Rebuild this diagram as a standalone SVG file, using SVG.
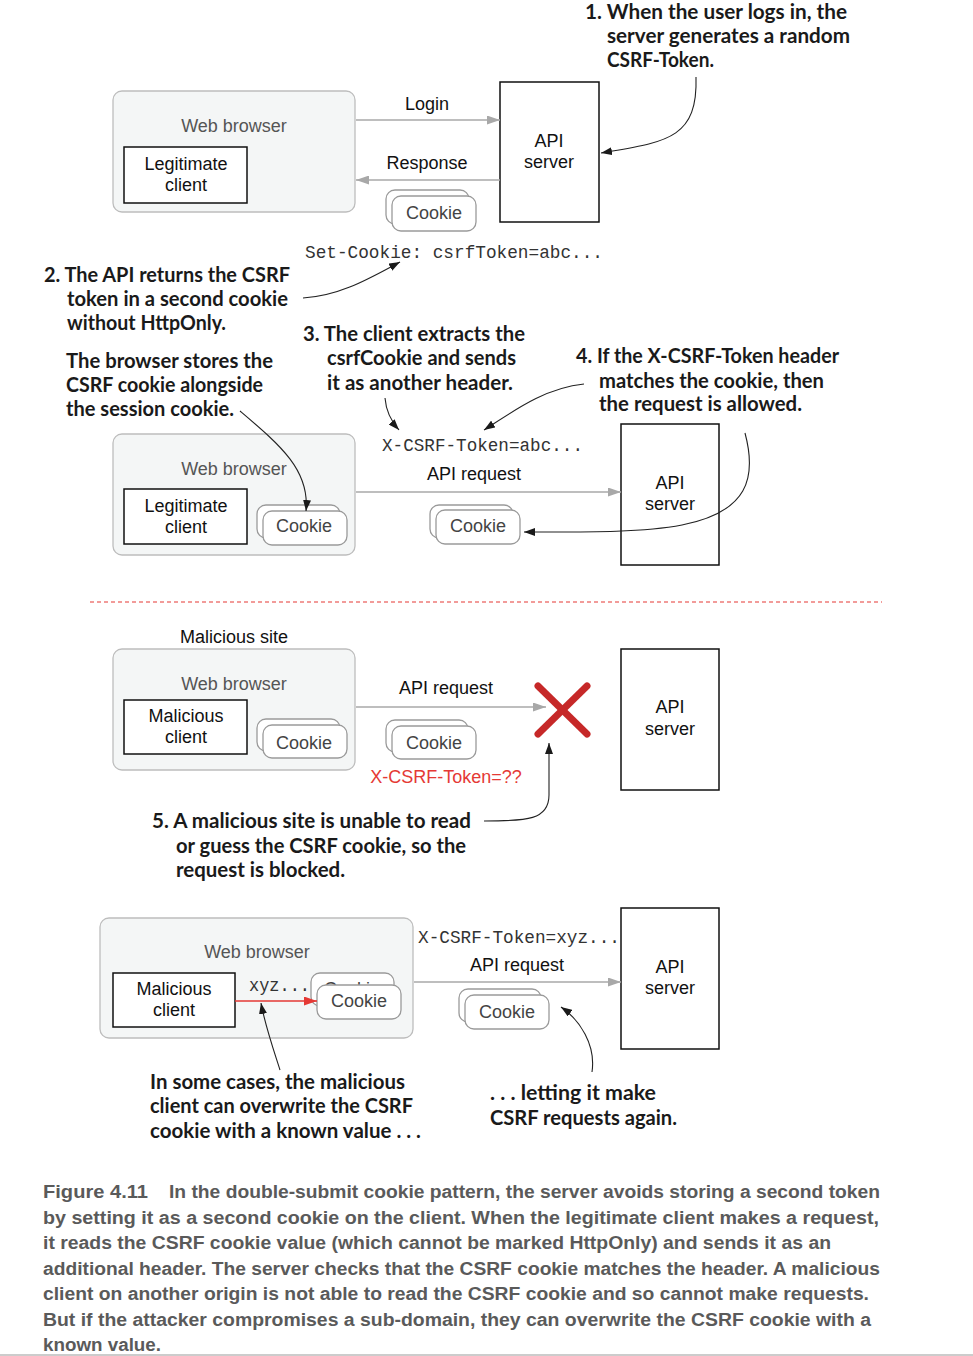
<svg xmlns="http://www.w3.org/2000/svg" width="973" height="1356" viewBox="0 0 973 1356">
<style>
.bg{fill:#fff}
.browser{fill:#f4f6f6;stroke:#bdbdbd;stroke-width:1.3}
.client{fill:#fff;stroke:#111;stroke-width:1.5}
.server{fill:#fff;stroke:#111;stroke-width:1.5}
.card{fill:#fff;stroke:#9a9a9a;stroke-width:1.3}
.sans{font-family:"Liberation Sans",Arial,sans-serif;font-size:18px;text-anchor:middle}
.dark{fill:#111}
.grey{fill:#555}
.cardt{fill:#444}
.mono{font-family:"Liberation Mono","Courier New",monospace;font-size:17.5px;fill:#333}
.ann{font-family:Lato,"DejaVu Sans",sans-serif;font-weight:bold;font-size:21px;fill:#1a1a1a}
.cap{font-family:"Liberation Sans",Arial,sans-serif;font-weight:bold;font-size:18px;fill:#5a5a5a}
.flow{stroke:#a8a8a8;stroke-width:1.6;fill:none}
.callout{stroke:#222;stroke-width:1.1;fill:none}
</style>
<defs>
<marker id="ga" markerUnits="userSpaceOnUse" markerWidth="13" markerHeight="9" refX="13" refY="4.5" orient="auto"><path d="M0,0 L13,4.5 L0,9 z" fill="#a8a8a8"/></marker>
<marker id="ba" markerUnits="userSpaceOnUse" markerWidth="11" markerHeight="8" refX="11" refY="4" orient="auto"><path d="M0,0 L11,4 L0,8 z" fill="#1a1a1a"/></marker>
<marker id="ra" markerUnits="userSpaceOnUse" markerWidth="13" markerHeight="9" refX="13" refY="4.5" orient="auto"><path d="M0,0 L13,4.5 L0,9 z" fill="#e53935"/></marker>
<clipPath id="backclip"><rect x="311" y="970" width="90" height="15"/></clipPath>
</defs>
<rect class="bg" x="0" y="0" width="973" height="1356"/>

<!-- Section 1 -->
<g id="browser1">
<rect class="browser" x="113" y="91" width="242" height="121" rx="9"/>
<text class="sans grey" x="234" y="132">Web browser</text>
</g>
<g id="client1">
<rect class="client" x="124" y="147" width="123" height="56"/>
<text class="sans dark" x="186" y="170">Legitimate</text>
<text class="sans dark" x="186" y="191">client</text>
</g>
<g id="cookie1">
<rect class="card" x="386" y="190" width="83" height="34" rx="9"/>
<rect class="card" x="392" y="196" width="84" height="35" rx="9"/>
<text class="sans cardt" x="434" y="219">Cookie</text>
</g>
<g id="server1">
<rect class="server" x="500" y="82" width="99" height="140"/>
<text class="sans dark" x="549" y="147">API</text>
<text class="sans dark" x="549" y="168">server</text>
</g>
<text class="sans dark" x="427" y="110">Login</text>
<text class="sans dark" x="427" y="169">Response</text>
<text class="mono" x="305" y="258" textLength="298" lengthAdjust="spacingAndGlyphs">Set-Cookie: csrfToken=abc...</text>

<!-- Section 2 -->
<g id="browser2">
<rect class="browser" x="113" y="434" width="242" height="121" rx="9"/>
<text class="sans grey" x="234" y="475">Web browser</text>
</g>
<g id="client2">
<rect class="client" x="124" y="489" width="123" height="55"/>
<text class="sans dark" x="186" y="512">Legitimate</text>
<text class="sans dark" x="186" y="533">client</text>
</g>
<g id="cookie2a">
<rect class="card" x="257" y="505" width="83" height="33" rx="9"/>
<rect class="card" x="263" y="511" width="84" height="34" rx="9"/>
<text class="sans cardt" x="304" y="532">Cookie</text>
</g>
<g id="cookie2b">
<rect class="card" x="430" y="505" width="83" height="33" rx="9"/>
<rect class="card" x="436" y="510" width="84" height="34" rx="9"/>
<text class="sans cardt" x="478" y="532">Cookie</text>
</g>
<g id="server2">
<rect class="server" x="621" y="424" width="98" height="141"/>
<text class="sans dark" x="670" y="489">API</text>
<text class="sans dark" x="670" y="510">server</text>
</g>
<text class="mono" x="382" y="451" textLength="201" lengthAdjust="spacingAndGlyphs">X-CSRF-Token=abc...</text>
<text class="sans dark" x="474" y="480">API request</text>

<line x1="90" y1="602" x2="882" y2="602" stroke="#e53935" stroke-width="1.1" stroke-dasharray="4,3"/>

<!-- Section 3 -->
<text class="sans dark" x="234" y="643">Malicious site</text>
<g id="browser3">
<rect class="browser" x="113" y="649" width="242" height="121" rx="9"/>
<text class="sans grey" x="234" y="690">Web browser</text>
</g>
<g id="client3">
<rect class="client" x="124" y="700" width="123" height="54"/>
<text class="sans dark" x="186" y="722">Malicious</text>
<text class="sans dark" x="186" y="743">client</text>
</g>
<g id="cookie3a">
<rect class="card" x="257" y="719" width="83" height="32" rx="9"/>
<rect class="card" x="263" y="725" width="84" height="33" rx="9"/>
<text class="sans cardt" x="304" y="749">Cookie</text>
</g>
<g id="cookie3b">
<rect class="card" x="386" y="720" width="82" height="32" rx="9"/>
<rect class="card" x="392" y="726" width="84" height="33" rx="9"/>
<text class="sans cardt" x="434" y="749">Cookie</text>
</g>
<g id="server3">
<rect class="server" x="621" y="649" width="98" height="141"/>
<text class="sans dark" x="670" y="713">API</text>
<text class="sans dark" x="670" y="735">server</text>
</g>
<text class="sans dark" x="446" y="694">API request</text>
<text class="sans" x="446" y="783" fill="#e53935">X-CSRF-Token=??</text>
<g id="block">
<line x1="538" y1="686" x2="587" y2="734" stroke="#c62828" stroke-width="7" stroke-linecap="round"/>
<line x1="587" y1="686" x2="538" y2="734" stroke="#c62828" stroke-width="7" stroke-linecap="round"/>
</g>

<!-- Section 4 -->
<g id="browser4">
<rect class="browser" x="100" y="918" width="313" height="120" rx="9"/>
<text class="sans grey" x="257" y="958">Web browser</text>
</g>
<g id="client4">
<rect class="client" x="113" y="973" width="122" height="54"/>
<text class="sans dark" x="174" y="995">Malicious</text>
<text class="sans dark" x="174" y="1016">client</text>
</g>
<text class="mono" x="249" y="991" textLength="61" lengthAdjust="spacingAndGlyphs">xyz...</text>
<g id="cookie4a">
<rect class="card" x="311" y="973" width="83" height="33" rx="9"/>
<g clip-path="url(#backclip)"><text class="sans cardt" x="352" y="995">Cookie</text></g>
<rect class="card" x="317" y="985" width="84" height="34" rx="9"/>
<text class="sans cardt" x="359" y="1007">Cookie</text>
</g>
<g id="cookie4b">
<rect class="card" x="459" y="989" width="82" height="33" rx="9"/>
<rect class="card" x="465" y="995" width="84" height="34" rx="9"/>
<text class="sans cardt" x="507" y="1018">Cookie</text>
</g>
<g id="server4">
<rect class="server" x="621" y="908" width="98" height="141"/>
<text class="sans dark" x="670" y="973">API</text>
<text class="sans dark" x="670" y="994">server</text>
</g>
<text class="mono" x="418" y="943" textLength="202" lengthAdjust="spacingAndGlyphs">X-CSRF-Token=xyz...</text>
<text class="sans dark" x="517" y="971">API request</text>

<!-- Connectors -->
<g id="connectors">
<line class="flow" x1="356" y1="120" x2="500" y2="120" marker-end="url(#ga)"/>
<line class="flow" x1="500" y1="180" x2="356" y2="180" marker-end="url(#ga)"/>
<line class="flow" x1="356" y1="492" x2="621" y2="492" marker-end="url(#ga)"/>
<line class="flow" x1="356" y1="707" x2="546" y2="707" marker-end="url(#ga)"/>
<line class="flow" x1="414" y1="982" x2="621" y2="982" marker-end="url(#ga)"/>
<line x1="235" y1="1001" x2="317" y2="1001" stroke="#e53935" stroke-width="1.4" marker-end="url(#ra)"/>
<path class="callout" d="M696,77 C698,140 665,142 601,153" marker-end="url(#ba)"/>
<path class="callout" d="M303,298 C340,296 370,278 400,262" marker-end="url(#ba)"/>
<path class="callout" d="M240,411 C280,445 310,470 306,511" marker-end="url(#ba)"/>
<path class="callout" d="M385,398 C386,411 390,420 399,430" marker-end="url(#ba)"/>
<path class="callout" d="M584,384 C545,388 515,410 484,430" marker-end="url(#ba)"/>
<path class="callout" d="M745,433 C757,478 748,512 682,525 C640,533 580,532 524,532" marker-end="url(#ba)"/>
<path class="callout" d="M484,821 C527,821 549,820 549,795 L549,743" marker-end="url(#ba)"/>
<path class="callout" d="M280,1070 C272,1045 265,1025 261,1003" marker-end="url(#ba)"/>
<path class="callout" d="M592,1072 C596,1045 580,1020 561,1007" marker-end="url(#ba)"/>
</g>

<!-- Annotations -->
<g id="note1">
<text class="ann" x="585" y="19" font-size="20" textLength="262" lengthAdjust="spacingAndGlyphs">1. When the user logs in, the</text>
<text class="ann" x="607" y="43" textLength="243" lengthAdjust="spacingAndGlyphs">server generates a random</text>
<text class="ann" x="607" y="67" textLength="107" lengthAdjust="spacingAndGlyphs">CSRF-Token.</text>
</g>
<g id="note2">
<text class="ann" x="44" y="282" textLength="246" lengthAdjust="spacingAndGlyphs">2. The API returns the CSRF</text>
<text class="ann" x="67" y="306" textLength="221" lengthAdjust="spacingAndGlyphs">token in a second cookie</text>
<text class="ann" x="67" y="330" textLength="159" lengthAdjust="spacingAndGlyphs">without HttpOnly.</text>
</g>
<g id="note2b">
<text class="ann" x="66" y="368" textLength="207" lengthAdjust="spacingAndGlyphs">The browser stores the</text>
<text class="ann" x="66" y="392" textLength="197" lengthAdjust="spacingAndGlyphs">CSRF cookie alongside</text>
<text class="ann" x="66" y="416" textLength="168" lengthAdjust="spacingAndGlyphs">the session cookie.</text>
</g>
<g id="note3">
<text class="ann" x="303" y="341" textLength="222" lengthAdjust="spacingAndGlyphs">3. The client extracts the</text>
<text class="ann" x="327" y="365" textLength="189" lengthAdjust="spacingAndGlyphs">csrfCookie and sends</text>
<text class="ann" x="327" y="390" textLength="186" lengthAdjust="spacingAndGlyphs">it as another header.</text>
</g>
<g id="note4">
<text class="ann" x="576" y="363" textLength="263" lengthAdjust="spacingAndGlyphs">4. If the X-CSRF-Token header</text>
<text class="ann" x="599" y="388" textLength="225" lengthAdjust="spacingAndGlyphs">matches the cookie, then</text>
<text class="ann" x="599" y="411" textLength="203" lengthAdjust="spacingAndGlyphs">the request is allowed.</text>
</g>
<g id="note5">
<text class="ann" x="152" y="828" textLength="319" lengthAdjust="spacingAndGlyphs">5. A malicious site is unable to read</text>
<text class="ann" x="176" y="853" textLength="290" lengthAdjust="spacingAndGlyphs">or guess the CSRF cookie, so the</text>
<text class="ann" x="176" y="877" textLength="169" lengthAdjust="spacingAndGlyphs">request is blocked.</text>
</g>
<g id="note6">
<text class="ann" x="150" y="1089" textLength="255" lengthAdjust="spacingAndGlyphs">In some cases, the malicious</text>
<text class="ann" x="150" y="1113" textLength="263" lengthAdjust="spacingAndGlyphs">client can overwrite the CSRF</text>
<text class="ann" x="150" y="1138" textLength="271" lengthAdjust="spacingAndGlyphs">cookie with a known value . . .</text>
</g>
<g id="note7">
<text class="ann" x="490" y="1100" textLength="166" lengthAdjust="spacingAndGlyphs">. . . letting it make</text>
<text class="ann" x="490" y="1125" textLength="187" lengthAdjust="spacingAndGlyphs">CSRF requests again.</text>
</g>

<!-- Caption -->
<g id="caption">
<text class="cap" x="43" y="1198" textLength="105" lengthAdjust="spacingAndGlyphs">Figure 4.11</text>
<text class="cap" x="169" y="1198" textLength="711" lengthAdjust="spacingAndGlyphs">In the double-submit cookie pattern, the server avoids storing a second token</text>
<text class="cap" x="43" y="1224" textLength="836" lengthAdjust="spacingAndGlyphs">by setting it as a second cookie on the client. When the legitimate client makes a request,</text>
<text class="cap" x="43" y="1249" textLength="788" lengthAdjust="spacingAndGlyphs">it reads the CSRF cookie value (which cannot be marked HttpOnly) and sends it as an</text>
<text class="cap" x="43" y="1275" textLength="837" lengthAdjust="spacingAndGlyphs">additional header. The server checks that the CSRF cookie matches the header. A malicious</text>
<text class="cap" x="43" y="1300" textLength="826" lengthAdjust="spacingAndGlyphs">client on another origin is not able to read the CSRF cookie and so cannot make requests.</text>
<text class="cap" x="43" y="1326" textLength="828" lengthAdjust="spacingAndGlyphs">But if the attacker compromises a sub-domain, they can overwrite the CSRF cookie with a</text>
<text class="cap" x="43" y="1351" textLength="118" lengthAdjust="spacingAndGlyphs">known value.</text>
</g>
<line x1="0" y1="1355" x2="973" y2="1355" stroke="#999" stroke-width="1"/>
</svg>
